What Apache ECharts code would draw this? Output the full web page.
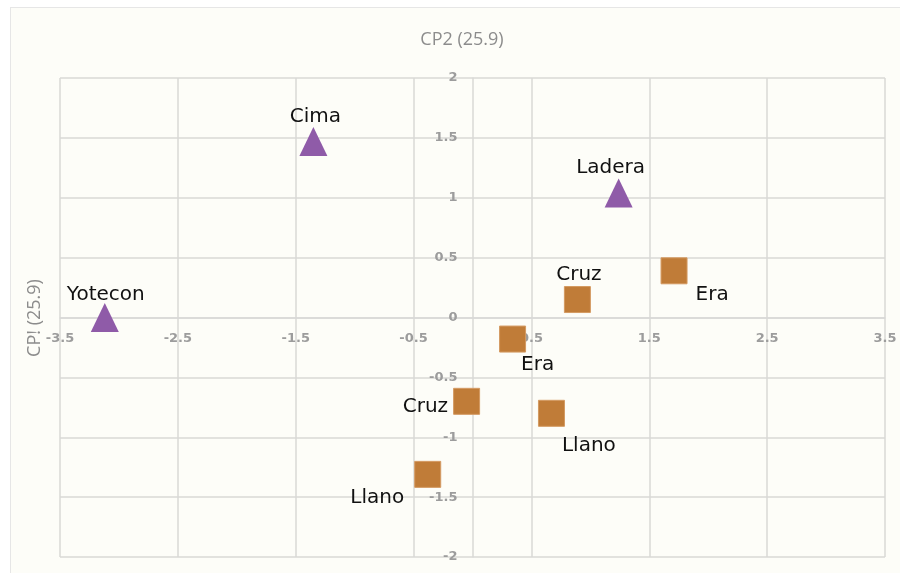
<!DOCTYPE html>
<html>
<head>
<meta charset="utf-8">
<script src="https://cdn.jsdelivr.net/npm/echarts@6/dist/echarts.min.js"></script>
<style>
html, body { margin: 0; padding: 0; background: #ffffff; }
#biplot {
  position: absolute;
  left: 10px;
  top: 7px;
  width: 889px;
  height: 565px;
  background: #fdfdf8;
  border-top: 1px solid #e6e6e6;
  border-left: 1px solid #e6e6e6;
}
</style>
</head>
<body>
<div id="biplot"></div>
<script>
// axis ranges
var xRange = [-3.5, 3.5];
var yRange = [-2, 2];
var xStep = 1;
var yStep = 0.5;
var xTitle = 'CP2 (25.9)';
var yTitle = 'CP! (25.9)';

// triangles (sitios)
var sitios = ['Yotecon', 'Cima', 'Ladera'];
var sitiosX = [-3.12, -1.35, 1.24];
var sitiosY = [0.0, 1.47, 1.04];

// squares (parcelas)
var parcelas = ['Era', 'Cruz', 'Era', 'Cruz', 'Llano', 'Llano'];
var parcelasX = [1.71, 0.89, 0.34, -0.05, 0.67, -0.38];
var parcelasY = [0.39, 0.15, -0.18, -0.70, -0.80, -1.31];

// where each name sits around its marker
var sitiosLabel = [
  { position: [15, -8], align: 'center', verticalAlign: 'middle' },
  { position: [16, -10], align: 'center', verticalAlign: 'middle' },
  { position: [6, -11], align: 'center', verticalAlign: 'middle' }
];
var parcelasLabel = [
  { position: [35, 37], align: 'left', verticalAlign: 'middle' },
  { position: [15, -11], align: 'center', verticalAlign: 'middle' },
  { position: [22, 39], align: 'left', verticalAlign: 'middle' },
  { position: [-5, 19], align: 'right', verticalAlign: 'middle' },
  { position: [24, 46], align: 'left', verticalAlign: 'middle' },
  { position: [-10, 37], align: 'right', verticalAlign: 'middle' }
];

var chartDom = document.getElementById('biplot');
var myChart = echarts.init(chartDom);
var option;

function buildData(names, xs, ys, labels) {
  var out = [];
  for (var i = 0; i < names.length; i++) {
    out.push({ name: names[i], value: [xs[i], ys[i]], label: labels[i] });
  }
  return out;
}

// grid box inside the panel (panel content starts at 11,8)
var gLeft = 49, gRight = 15, gTop = 70, gBottom = 16;
var gW = 889 - gLeft - gRight;
var gH = 565 - gTop - gBottom;
// move axes so they cross at 0,0
var yAxisShift = -gW * (0 - xRange[0]) / (xRange[1] - xRange[0]);
var xAxisShift = -gH * (0 - yRange[0]) / (yRange[1] - yRange[0]);

var gridColor = '#d9d9d6';
var tickText = {
  color: '#9c9c9c',
  fontFamily: 'DejaVu Sans',
  fontWeight: 'bold',
  fontSize: 13
};

option = {
  animation: false,
  grid: { left: gLeft, right: gRight, top: gTop, bottom: gBottom, outerBoundsMode: 'none' },
  graphic: [
    {
      type: 'text', x: 451, y: 32,
      style: {
        text: xTitle, fill: '#8c8c8c', fontFamily: 'Open Sans', fontSize: 18,
        textAlign: 'center', textVerticalAlign: 'middle'
      }
    },
    {
      type: 'text', x: 24, y: 310, rotation: Math.PI / 2,
      style: {
        text: yTitle, fill: '#8c8c8c', fontFamily: 'Open Sans', fontSize: 18,
        textAlign: 'center', textVerticalAlign: 'middle'
      }
    }
  ],
  xAxis: {
    type: 'value',
    position: 'bottom',
    offset: xAxisShift,
    min: xRange[0],
    max: xRange[1],
    interval: xStep,
    axisLine: { show: true, onZero: false, lineStyle: { color: gridColor, width: 1.5 } },
    axisTick: { show: false },
    axisLabel: Object.assign({ margin: 15, showMinLabel: true, showMaxLabel: true }, tickText),
    splitLine: { show: true, lineStyle: { color: gridColor, width: 1.5 } }
  },
  yAxis: {
    type: 'value',
    position: 'left',
    offset: yAxisShift,
    min: yRange[0],
    max: yRange[1],
    interval: yStep,
    axisLine: { show: true, onZero: false, lineStyle: { color: gridColor, width: 1.5 } },
    axisTick: { show: false },
    axisLabel: Object.assign({ margin: 15, showMinLabel: true, showMaxLabel: true }, tickText),
    splitLine: { show: true, lineStyle: { color: gridColor, width: 1.5 } }
  },
  series: [
    {
      name: 'sitios',
      type: 'scatter',
      symbol: 'triangle',
      symbolSize: [28, 29],
      itemStyle: { color: '#8f5ba8', opacity: 1 },
      label: {
        show: true,
        formatter: '{b}',
        color: '#111111',
        fontFamily: 'DejaVu Sans',
        fontSize: 20
      },
      data: buildData(sitios, sitiosX, sitiosY, sitiosLabel)
    },
    {
      name: 'parcelas',
      type: 'scatter',
      symbol: 'rect',
      symbolSize: 26,
      itemStyle: { color: '#c07c38', borderColor: '#d49a62', borderWidth: 1, opacity: 1 },
      label: {
        show: true,
        formatter: '{b}',
        color: '#111111',
        fontFamily: 'DejaVu Sans',
        fontSize: 20
      },
      data: buildData(parcelas, parcelasX, parcelasY, parcelasLabel)
    }
  ]
};

option && myChart.setOption(option);
</script>
</body>
</html>
